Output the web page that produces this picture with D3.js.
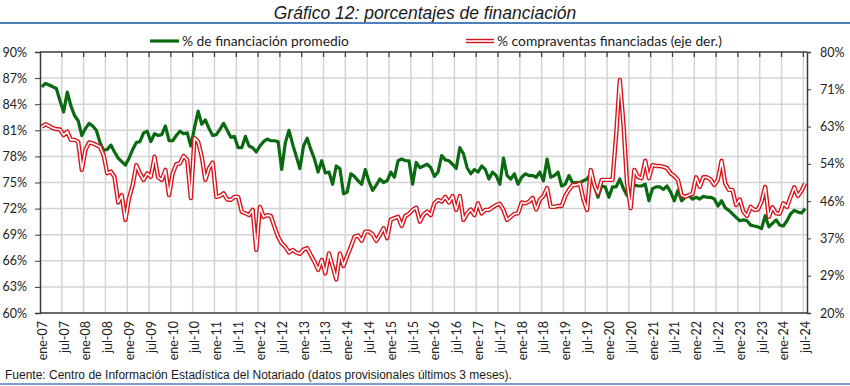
<!DOCTYPE html>
<html>
<head>
<meta charset="utf-8">
<script src="https://cdn.jsdelivr.net/npm/d3@7"></script>
<style>
  body { margin: 0; background: #fff; }
  svg { display: block; }
  .tick-label { font-family: Lato, "Open Sans", sans-serif; font-size: 12.5px; fill: #222; }
  .legend-label { font-family: Lato, "Open Sans", sans-serif; font-size: 13.8px; fill: #222; }
</style>
</head>
<body>
<svg class="chart"></svg>
<script>
// months ene-07 .. jul-24
var months = d3.timeMonth.range(new Date(2007, 0, 1), new Date(2024, 7, 1));

// % de financiación promedio (left axis)
var financiacion = [
  86.0, 86.4, 86.2, 86.0, 85.8, 84.4, 83.1, 85.4, 83.8, 82.7, 82.1, 80.4,
  81.2, 81.8, 81.5, 81.0, 79.6, 78.7, 78.8, 79.3, 78.5, 77.8, 77.4, 77.0,
  77.8, 78.8, 79.6, 79.7, 80.7, 80.9, 79.7, 80.6, 80.4, 80.5, 81.5, 79.8,
  79.8, 80.4, 80.9, 80.6, 80.7, 79.2, 81.3, 83.2, 81.7, 82.2, 81.2, 80.4,
  80.5, 81.1, 81.8, 81.0, 80.2, 80.3, 79.0, 79.0, 80.3, 79.2, 79.0, 78.5,
  79.2, 79.7, 80.0, 79.8, 79.8, 79.7, 76.5, 79.6, 81.0, 79.4, 78.0, 76.6,
  79.2, 80.1, 78.8, 77.7, 76.2, 77.5, 76.1, 76.2, 74.8, 76.9, 76.6, 73.7,
  73.9, 76.0, 75.7, 75.2, 74.8, 76.5, 75.1, 74.1, 74.7, 75.4, 75.0, 75.2,
  76.2, 75.6, 77.5, 77.7, 77.5, 77.5, 74.8, 77.3, 76.7, 76.9, 77.1, 76.7,
  75.7, 76.2, 78.1, 77.6, 77.5, 77.1, 76.6, 79.0, 78.3, 76.7, 76.0, 76.5,
  76.2, 76.9, 76.5, 75.4, 76.2, 75.8, 74.8, 77.8, 75.8, 75.4, 76.0, 74.8,
  75.6, 76.0, 75.8, 75.8, 75.6, 76.2, 75.2, 77.7, 75.6, 75.8, 76.2, 74.6,
  74.8, 75.8, 75.0, 75.0, 75.0, 75.2, 75.4, 76.0, 74.6, 73.3, 74.6, 74.5,
  73.3, 74.5, 74.5, 75.4, 74.3, 73.5, 73.9, 74.7, 74.6, 74.6, 74.8, 72.9,
  74.3, 74.5, 74.5, 74.2, 74.6, 73.9, 72.9, 74.1, 72.9, 73.3, 73.5, 73.1,
  73.3, 73.1, 73.4, 73.3, 73.3, 73.1, 72.3, 72.9, 72.1, 71.8, 71.4, 71.0,
  70.6, 70.7, 70.6, 70.1, 70.0, 69.9, 69.7, 71.2, 69.9, 70.3, 70.7, 70.1,
  70.0, 70.6, 71.4, 71.8, 71.6, 71.5, 72.0
];

// % compraventas financiadas (right axis)
var compraventas = [
  62.8, 63.4, 63.0, 62.5, 62.3, 62.2, 60.9, 61.7, 59.8, 59.8, 59.4, 52.9,
  57.5, 59.2, 59.0, 58.6, 58.2, 56.3, 52.1, 52.5, 51.3, 45.4, 47.1, 41.4,
  46.4, 49.4, 54.0, 52.1, 50.6, 52.1, 51.3, 55.9, 51.2, 50.6, 52.9, 47.1,
  52.1, 54.2, 54.4, 56.1, 55.2, 46.4, 60.2, 59.4, 55.9, 50.6, 53.3, 54.6,
  46.7, 46.9, 47.5, 46.1, 46.0, 46.7, 46.7, 43.3, 42.9, 42.5, 43.7, 34.5,
  44.4, 42.1, 42.5, 42.3, 39.8, 37.5, 36.0, 35.2, 33.9, 34.5, 33.9, 33.6,
  34.6, 34.9, 33.3, 31.8, 29.9, 32.2, 29.1, 33.7, 30.7, 27.7, 33.7, 30.8,
  33.1, 35.2, 37.5, 37.8, 36.6, 38.7, 38.7, 38.1, 36.6, 37.9, 39.5, 37.2,
  41.5, 41.8, 42.1, 40.0, 42.3, 42.8, 43.7, 44.2, 41.0, 42.6, 43.3, 42.5,
  45.2, 46.0, 45.6, 46.7, 45.4, 46.9, 43.7, 46.9, 41.4, 42.9, 43.8, 42.5,
  45.2, 42.9, 43.7, 43.7, 44.3, 44.8, 45.1, 43.7, 41.4, 42.1, 42.8, 42.9,
  45.4, 45.2, 45.6, 46.5, 43.8, 46.1, 46.9, 48.7, 44.4, 44.4, 44.6, 44.6,
  46.9, 48.3, 49.4, 49.4, 49.8, 46.1, 43.7, 52.9, 49.4, 47.5, 50.6, 50.6,
  50.6, 50.6, 60.9, 73.6, 63.6, 49.8, 44.1, 52.9, 51.3, 51.0, 55.0, 51.0,
  54.0, 53.8, 53.8, 53.6, 53.3, 52.1, 51.5, 50.6, 47.1, 46.7, 47.1, 47.4,
  51.2, 49.0, 51.2, 51.2, 50.7, 49.4, 50.7, 55.0, 49.8, 48.3, 48.3, 44.8,
  46.1, 43.3, 42.3, 44.4, 43.7, 43.8, 45.6, 49.0, 42.1, 44.3, 42.9, 42.8,
  45.2, 44.4, 46.7, 48.9, 46.9, 48.1, 49.8
];

var leftTicks = d3.range(60, 91, 3);
var rightTicks = d3.range(0, 8).map(function (i) { return 20 + i * 60 / 7; });
var mesCorto = ["ene", "feb", "mar", "abr", "may", "jun", "jul", "ago", "sep", "oct", "nov", "dic"];

function show() {
    'use strict';

    var width = 850, height = 386;
    var plot = {top: 52, bottom: 313, left: 40, right: 807};

    var svg = d3.select(".chart")
        .attr("width", width)
        .attr("height", height);

    var x = d3.scaleBand()
        .domain(d3.range(months.length))
        .range([plot.left, plot.right])
        .padding(0);
    var bw = x.bandwidth();
    var cx = function (i) { return x(i) + bw / 2; };

    var yL = d3.scaleLinear().domain([60, 90]).range([plot.bottom, plot.top]);
    var yR = d3.scaleLinear().domain([20, 80]).range([plot.bottom, plot.top]);

    // title and blue rules
    svg.append("text")
        .attr("x", 425).attr("y", 19)
        .attr("text-anchor", "middle")
        .style("font-family", "'Liberation Sans', Arial, sans-serif")
        .style("font-style", "italic")
        .style("font-size", "17.5px")
        .style("fill", "#1a1a1a")
        .text("Gráfico 12: porcentajes de financiación");
    svg.append("line").attr("x1", 0).attr("x2", width).attr("y1", 23).attr("y2", 23)
        .style("stroke", "#4f7fb8").style("stroke-width", 2);
    svg.append("line").attr("x1", 0).attr("x2", width).attr("y1", 384).attr("y2", 384)
        .style("stroke", "#4f7fb8").style("stroke-width", 1.5);

    // gridlines
    var grid = svg.append("g");
    grid.selectAll(".hgrid").data(leftTicks.slice(1, -1)).enter()
        .append("line")
        .attr("x1", plot.left).attr("x2", plot.right)
        .attr("y1", function (d) { return yL(d); }).attr("y2", function (d) { return yL(d); })
        .style("stroke", "#d4d4d4").style("stroke-width", 1.5);
    var sixMonths = d3.range(6, months.length, 6);
    grid.selectAll(".vgrid").data(sixMonths).enter()
        .append("line")
        .attr("x1", function (d) { return x(d); }).attr("x2", function (d) { return x(d); })
        .attr("y1", plot.top).attr("y2", plot.bottom)
        .style("stroke", "#d4d4d4").style("stroke-width", 1.5);

    // frame and axes
    var axisColor = "#3a3a3a";
    svg.append("line").attr("x1", plot.left).attr("x2", plot.right).attr("y1", plot.top).attr("y2", plot.top)
        .style("stroke", axisColor).style("stroke-width", 1.5);
    svg.append("line").attr("x1", plot.left).attr("x2", plot.right).attr("y1", plot.bottom).attr("y2", plot.bottom)
        .style("stroke", axisColor).style("stroke-width", 1.5);
    svg.selectAll(".toptick").data(sixMonths).enter()
        .append("line")
        .attr("x1", function (d) { return x(d); }).attr("x2", function (d) { return x(d); })
        .attr("y1", plot.top).attr("y2", plot.top + 5)
        .style("stroke", axisColor).style("stroke-width", 1.2);

    var leftAxis = svg.append("g")
        .attr("transform", "translate(" + plot.left + ",0)")
        .call(d3.axisLeft(yL).tickValues(leftTicks).tickSize(5).tickPadding(8)
            .tickFormat(function (d) { return d + "%"; }));
    var rightAxis = svg.append("g")
        .attr("transform", "translate(" + plot.right + ",0)")
        .call(d3.axisRight(yR).tickValues(rightTicks).tickSize(4).tickPadding(9)
            .tickFormat(function (d) { return Math.round(d) + "%"; }));
    [leftAxis, rightAxis].forEach(function (a) {
        a.select(".domain").style("stroke", axisColor).style("stroke-width", 1.5);
        a.selectAll(".tick line").style("stroke", axisColor);
        a.selectAll("text").attr("class", "tick-label");
        a.attr("font-size", null).attr("font-family", null);
    });

    // x labels every six months
    svg.selectAll(".xlab").data(d3.range(0, months.length, 6)).enter()
        .append("text")
        .attr("class", "tick-label")
        .attr("text-anchor", "end")
        .attr("transform", function (d) { return "translate(" + (cx(d) + 5) + ",321) rotate(-90)"; })
        .text(function (d) {
            var m = months[d];
            return mesCorto[m.getMonth()] + "-" + d3.timeFormat("%y")(m);
        });

    // lines
    var lineL = d3.line().x(function (d, i) { return cx(i); }).y(function (d) { return yL(d); });
    var lineR = d3.line().x(function (d, i) { return cx(i); }).y(function (d) { return yR(d); });

    svg.append("path").datum(financiacion)
        .attr("d", lineL)
        .style("fill", "none").style("stroke", "#0a6a12").style("stroke-width", 3.2)
        .style("stroke-linejoin", "round");
    svg.append("path").datum(compraventas)
        .attr("d", lineR)
        .style("fill", "none").style("stroke", "#d9141c").style("stroke-width", 4.4)
        .style("stroke-linejoin", "round");
    svg.append("path").datum(compraventas)
        .attr("d", lineR)
        .style("fill", "none").style("stroke", "#fff").style("stroke-width", 1.6)
        .style("stroke-linejoin", "round");

    // legend
    var lg = svg.append("g");
    lg.append("line").attr("x1", 150).attr("x2", 179).attr("y1", 41).attr("y2", 41)
        .style("stroke", "#0a6a12").style("stroke-width", 3.2);
    lg.append("text").attr("class", "legend-label").attr("x", 182).attr("y", 46)
        .text("% de financiación promedio");
    lg.append("line").attr("x1", 466).attr("x2", 494).attr("y1", 41).attr("y2", 41)
        .style("stroke", "#d9141c").style("stroke-width", 4.4);
    lg.append("line").attr("x1", 466).attr("x2", 494).attr("y1", 41).attr("y2", 41)
        .style("stroke", "#fff").style("stroke-width", 1.6);
    lg.append("text").attr("class", "legend-label").attr("x", 497).attr("y", 46)
        .text("% compraventas financiadas (eje der.)");

    // source
    svg.append("text")
        .attr("x", 5).attr("y", 379)
        .style("font-family", "'Liberation Sans', Arial, sans-serif")
        .style("font-size", "12px")
        .style("fill", "#1a1a1a")
        .text("Fuente: Centro de Información Estadística del Notariado (datos provisionales últimos 3 meses).");
}

show();
</script>
</body>
</html>
